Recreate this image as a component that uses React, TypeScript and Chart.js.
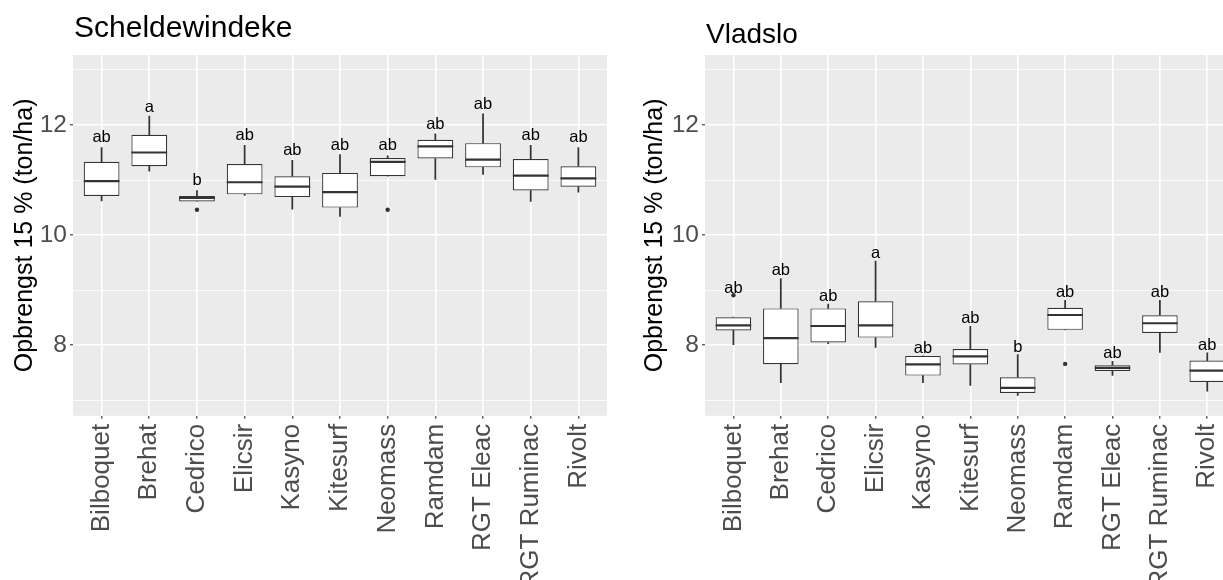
import React, { useEffect, useRef } from 'react';
import { Chart, registerables } from 'chart.js';

Chart.register(...registerables);

const FONT = '"Liberation Sans", Arial, Helvetica, sans-serif';

// ---- categories ----
const categories = ['Bilboquet', 'Brehat', 'Cedrico', 'Elicsir', 'Kasyno', 'Kitesurf', 'Neomass', 'Ramdam', 'RGT Eleac', 'RGT Ruminac', 'Rivolt'];

// ---- y axis ----
const yAxisMin = 6.72;
const yAxisMax = 13.27;
const yGridValues = [7, 8, 9, 10, 11, 12, 13];
const yTickLabels = ['8', '10', '12'];
const yAxisTitle = 'Opbrengst 15 % (ton/ha)';

// ---- Scheldewindeke ----
const schTitle = 'Scheldewindeke';
const schLow = [10.62, 11.16, 10.61, 10.72, 10.47, 10.34, 11.07, 11.01, 11.10, 10.61, 10.78];
const schQ1 = [10.71, 11.25, 10.61, 10.74, 10.69, 10.50, 11.07, 11.39, 11.23, 10.81, 10.88];
const schMedian = [10.98, 11.50, 10.675, 10.96, 10.88, 10.78, 11.33, 11.61, 11.37, 11.08, 11.03];
const schQ3 = [11.33, 11.82, 10.71, 11.29, 11.07, 11.13, 11.40, 11.73, 11.67, 11.38, 11.25];
const schHigh = [11.59, 12.16, 10.81, 11.63, 11.36, 11.46, 11.44, 11.84, 12.20, 11.63, 11.59];
const schOutlierCat = [2, 6];
const schOutlierVal = [10.46, 10.46];
const schLetters = ['ab', 'a', 'b', 'ab', 'ab', 'ab', 'ab', 'ab', 'ab', 'ab', 'ab'];
const schLetterY = [11.69, 12.24, 10.905, 11.72, 11.45, 11.55, 11.54, 11.93, 12.29, 11.72, 11.69];

// ---- Vladslo ----
const vlaTitle = 'Vladslo';
const vlaLow = [8.01, 7.32, 8.03, 7.96, 7.32, 7.27, 7.09, 8.28, 7.455, 7.87, 7.165];
const vlaQ1 = [8.27, 7.655, 8.05, 8.14, 7.45, 7.65, 7.135, 8.28, 7.535, 8.225, 7.335];
const vlaMedian = [8.36, 8.13, 8.35, 8.36, 7.655, 7.80, 7.226, 8.55, 7.59, 8.40, 7.54];
const vlaQ3 = [8.51, 8.67, 8.67, 8.80, 7.807, 7.934, 7.42, 8.68, 7.637, 8.545, 7.722];
const vlaHigh = [8.51, 9.21, 8.75, 9.53, 7.807, 8.345, 7.83, 8.817, 7.71, 8.817, 7.862];
const vlaOutlierCat = [0, 7];
const vlaOutlierVal = [8.908, 7.662];
const vlaLetters = ['ab', 'ab', 'ab', 'a', 'ab', 'ab', 'b', 'ab', 'ab', 'ab', 'ab'];
const vlaLetterY = [8.95, 9.27, 8.81, 9.59, 7.86, 8.40, 7.88, 8.88, 7.77, 8.88, 7.92];

type Panel = {
  title: string;
  titleSize: number;
  titleBaseline: number;
  axisTitleX: number;
  low: number[];
  q1: number[];
  median: number[];
  q3: number[];
  high: number[];
  outCat: number[];
  outVal: number[];
  letters: string[];
  letterY: number[];
  padRight: number;
};

const panels: Panel[] = [
  { title: schTitle, titleSize: 30, titleBaseline: 36.7, axisTitleX: 31.5, low: schLow, q1: schQ1, median: schMedian, q3: schQ3, high: schHigh, outCat: schOutlierCat, outVal: schOutlierVal, letters: schLetters, letterY: schLetterY, padRight: 33 },
  { title: vlaTitle, titleSize: 28, titleBaseline: 43.3, axisTitleX: 29.5, low: vlaLow, q1: vlaQ1, median: vlaMedian, q3: vlaQ3, high: vlaHigh, outCat: vlaOutlierCat, outVal: vlaOutlierVal, letters: vlaLetters, letterY: vlaLetterY, padRight: 36.3 },
];

const CANVAS_W = 640;
const CANVAS_H = 580;
const PANEL_TOP = 55;
const PANEL_BOTTOM = 415.8;
const YAXIS_W = 73;

function makePlugin(p: Panel) {
  return {
    id: 'ggpanel',
    beforeDraw(chart: any) {
      const { ctx, chartArea: a } = chart;
      ctx.save();
      ctx.fillStyle = '#EBEBEB';
      ctx.fillRect(a.left, a.top, a.right - a.left, a.bottom - a.top);
      ctx.restore();
    },
    afterDatasetsDraw(chart: any) {
      const { ctx } = chart;
      const xs = chart.scales.x;
      const ys = chart.scales.y;
      const halfW = (xs.getPixelForValue(1) - xs.getPixelForValue(0)) * 0.375;
      ctx.save();
      ctx.strokeStyle = '#333333';
      ctx.lineWidth = 2.2;
      p.median.forEach((m, i) => {
        const x = xs.getPixelForValue(i);
        const y = ys.getPixelForValue(m);
        ctx.beginPath();
        ctx.moveTo(x - halfW, y);
        ctx.lineTo(x + halfW, y);
        ctx.stroke();
      });
      ctx.fillStyle = '#000000';
      ctx.font = `16.5px ${FONT}`;
      ctx.textAlign = 'center';
      ctx.textBaseline = 'alphabetic';
      p.letters.forEach((t, i) => {
        ctx.fillText(t, xs.getPixelForValue(i), ys.getPixelForValue(p.letterY[i]));
      });
      ctx.restore();
    },
    afterDraw(chart: any) {
      const { ctx, chartArea: a } = chart;
      ctx.save();
      ctx.fillStyle = '#000000';
      ctx.font = `${p.titleSize}px ${FONT}`;
      ctx.textAlign = 'left';
      ctx.textBaseline = 'alphabetic';
      ctx.fillText(p.title, a.left + 1, p.titleBaseline);
      ctx.font = `25px ${FONT}`;
      ctx.translate(p.axisTitleX, (a.top + a.bottom) / 2);
      ctx.rotate(-Math.PI / 2);
      ctx.textAlign = 'center';
      ctx.textBaseline = 'alphabetic';
      ctx.fillText(yAxisTitle, 0, 0);
      ctx.restore();
    },
  };
}

function makeConfig(p: Panel): any {
  const boxData = categories.map((_, i) => ({ x: i, y: [p.q1[i], p.q3[i]] }));
  const lowData = categories.map((_, i) => ({ x: i, y: [p.low[i], p.q1[i]] }));
  const highData = categories.map((_, i) => ({ x: i, y: [p.q3[i], p.high[i]] }));
  const outData = p.outCat.map((c, i) => ({ x: c, y: p.outVal[i] }));
  return {
    type: 'bar',
    data: {
      datasets: [
        {
          type: 'bar',
          data: boxData,
          backgroundColor: '#FFFFFF',
          borderColor: '#333333',
          borderWidth: 1.2,
          borderSkipped: false,
          grouped: false,
          barPercentage: 0.75,
          categoryPercentage: 1,
        },
        { type: 'bar', data: lowData, backgroundColor: '#333333', borderWidth: 0, barThickness: 1.1, grouped: false },
        { type: 'bar', data: highData, backgroundColor: '#333333', borderWidth: 0, barThickness: 1.1, grouped: false },
        { type: 'scatter', data: outData, backgroundColor: '#333333', borderWidth: 0, pointRadius: 2.2 },
      ],
    },
    options: {
      animation: false,
      responsive: true,
      maintainAspectRatio: false,
      events: [],
      layout: { padding: { top: PANEL_TOP, left: 0, right: p.padRight, bottom: 0 } },
      plugins: { legend: { display: false }, tooltip: { enabled: false }, title: { display: false } },
      scales: {
        x: {
          type: 'linear',
          min: -0.6,
          max: 10.6,
          offset: false,
          border: { display: false },
          grid: { offset: false, color: '#FFFFFF', lineWidth: 1.6, tickLength: 3, tickColor: '#333333', tickWidth: 1.1 },
          ticks: {
            autoSkip: false,
            maxRotation: 90,
            minRotation: 90,
            padding: 5,
            color: '#4D4D4D',
            font: { family: FONT, size: 26 },
            callback: (v: number) => categories[Math.round(v)] ?? '',
          },
          afterBuildTicks: (s: any) => { s.ticks = categories.map((_, i) => ({ value: i })); },
          afterFit: (s: any) => { s.height = CANVAS_H - PANEL_BOTTOM; },
        },
        y: {
          type: 'linear',
          min: yAxisMin,
          max: yAxisMax,
          border: { display: false },
          grid: {
            offset: false,
            color: '#FFFFFF',
            lineWidth: (c: any) => (c.tick && yTickLabels.includes(String(c.tick.value)) ? 1.6 : 0.8),
            tickLength: 3,
            tickColor: (c: any) => (c.tick && yTickLabels.includes(String(c.tick.value)) ? '#333333' : 'rgba(0,0,0,0)'),
            tickWidth: 1.1,
          },
          ticks: {
            padding: 3,
            color: '#4D4D4D',
            font: { family: FONT, size: 24.5 },
            callback: (v: number) => (yTickLabels.includes(String(v)) ? String(v) : ''),
          },
          afterBuildTicks: (s: any) => { s.ticks = yGridValues.map((v) => ({ value: v })); },
          afterFit: (s: any) => { s.width = YAXIS_W; },
        },
      },
    },
    plugins: [makePlugin(p)],
  };
}

function PanelChart({ p, left }: { p: Panel; left: number }) {
  const ref = useRef<HTMLCanvasElement>(null);
  useEffect(() => {
    const chart = new Chart(ref.current as HTMLCanvasElement, makeConfig(p));
    return () => chart.destroy();
  }, [p]);
  return (
    <div style={{ position: 'absolute', left, top: 0, width: CANVAS_W, height: CANVAS_H }}>
      <canvas ref={ref} />
    </div>
  );
}

export default function App() {
  return (
    <div style={{ position: 'fixed', left: 0, top: 0, width: 1223, height: 580, overflow: 'hidden', background: '#FFFFFF' }}>
      <PanelChart p={panels[0]} left={0} />
      <PanelChart p={panels[1]} left={632} />
    </div>
  );
}
